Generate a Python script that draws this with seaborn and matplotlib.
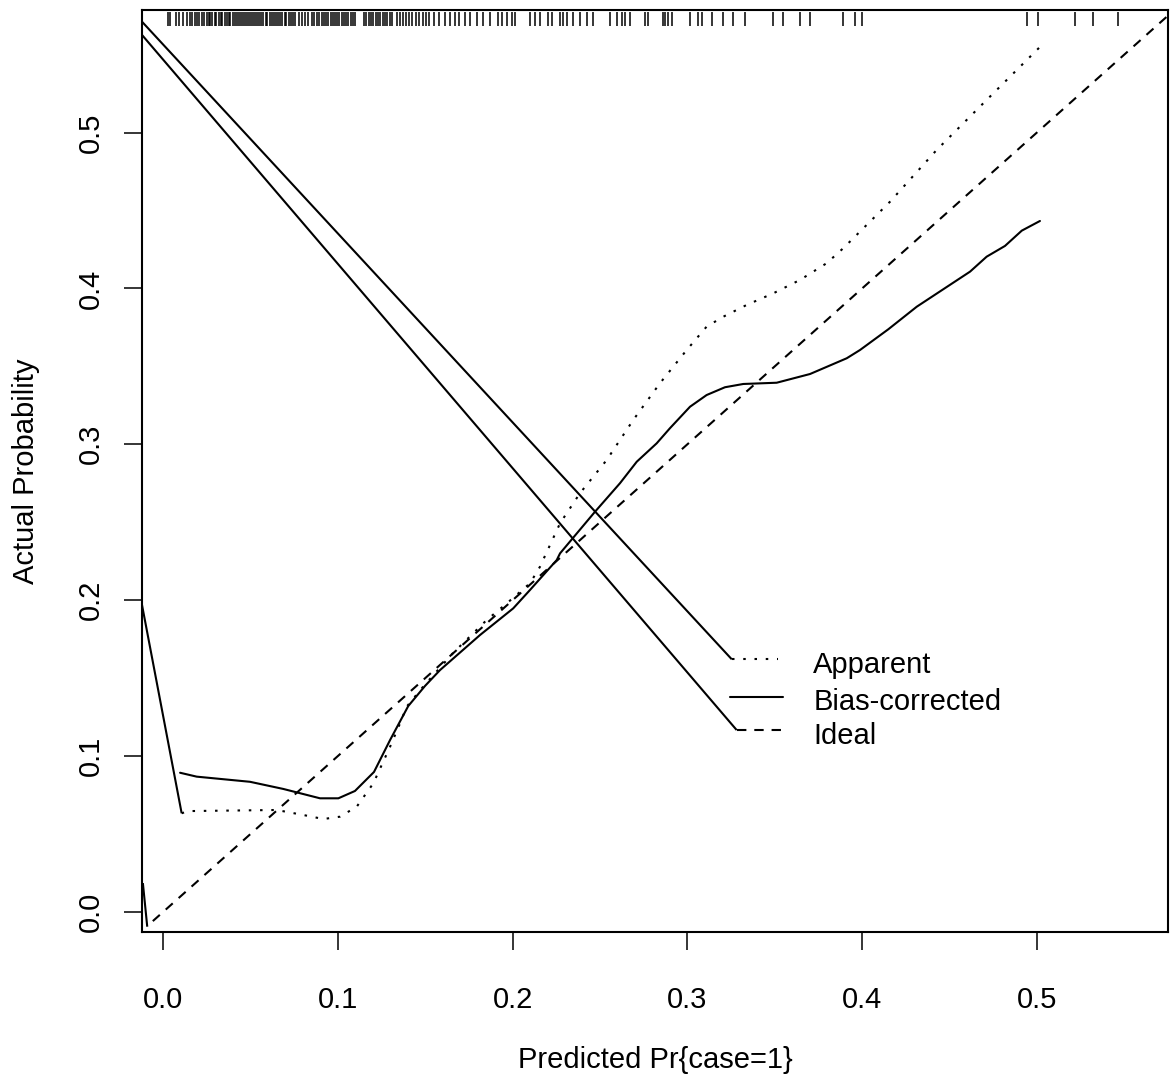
import numpy as np
import pandas as pd
import matplotlib
matplotlib.use("Agg")
import matplotlib.pyplot as plt
import seaborn as sns

# ---------------- data ----------------
apparent_x = [0.0105, 0.0143, 0.0649, 0.0801, 0.0916, 0.1011, 0.1107, 0.1202, 0.1298,
              0.1355, 0.1393, 0.1487, 0.1658, 0.1851, 0.1966, 0.2099, 0.2156, 0.2271,
              0.2385, 0.2538, 0.2690, 0.2843, 0.2996, 0.3110, 0.3206, 0.3339, 0.3492,
              0.3645, 0.3797, 0.3892, 0.4160, 0.4427, 0.4713, 0.5018]
apparent_y = [0.0632, 0.0646, 0.0653, 0.0621, 0.0595, 0.0610, 0.0674, 0.0824, 0.1059,
              0.1209, 0.1316, 0.1444, 0.1660, 0.1872, 0.1979, 0.2108, 0.2214, 0.2493,
              0.2686, 0.2899, 0.3156, 0.3392, 0.3605, 0.3755, 0.3819, 0.3894, 0.3969,
              0.4055, 0.4162, 0.4258, 0.4557, 0.4889, 0.5210, 0.5550]

corrected_x = [0.0096, 0.0191, 0.0496, 0.0687, 0.0897, 0.1002, 0.1097, 0.1206, 0.1298,
               0.1402, 0.1498, 0.1584, 0.1813, 0.2003, 0.2099, 0.2252, 0.2271, 0.2471,
               0.2614, 0.2710, 0.2824, 0.2900, 0.3015, 0.3110, 0.3215, 0.3320, 0.3511,
               0.3702, 0.3912, 0.3988, 0.4150, 0.4313, 0.4618, 0.4713, 0.4818, 0.4914,
               0.5018]
corrected_y = [0.0892, 0.0867, 0.0834, 0.0788, 0.0728, 0.0728, 0.0775, 0.0897, 0.1102,
               0.1320, 0.1449, 0.1551, 0.1776, 0.1947, 0.2065, 0.2257, 0.2300, 0.2567,
               0.2750, 0.2888, 0.3006, 0.3103, 0.3241, 0.3316, 0.3366, 0.3387, 0.3395,
               0.3451, 0.3552, 0.3605, 0.3738, 0.3883, 0.4108, 0.4204, 0.4273, 0.4371,
               0.4433]

ideal_x = [-0.0060, 0.5800]
ideal_y = [-0.0060, 0.5800]

# stray connector segments present in the original figure
seg_a_x = [-0.0122, 0.0105]
seg_a_y = [0.1969, 0.0632]
seg_b_x = [-0.0117, -0.0092]
seg_b_y = [0.0184, -0.0096]
seg_c_x = [-0.0122, 0.3254]
seg_c_y = [0.5712, 0.1620]
seg_d_x = [-0.0122, 0.3282]
seg_d_y = [0.5627, 0.1166]

# rug of predicted probabilities (top)
rug_x = [0.0027, 0.0040, 0.0075, 0.0090, 0.0113,
         0.0135, 0.0150, 0.0165, 0.0180, 0.0190, 0.0205, 0.0221,
         0.0235, 0.0248, 0.0260, 0.0268, 0.0281, 0.0295, 0.0302, 0.0316, 0.0330, 0.0338,
         0.0351, 0.0362, 0.0375, 0.0384, 0.0398, 0.0410, 0.0419, 0.0432, 0.0446, 0.0455,
         0.0467, 0.0480, 0.0489, 0.0502, 0.0515, 0.0524, 0.0538, 0.0549, 0.0560, 0.0573,
         0.0585, 0.0596, 0.0610, 0.0621, 0.0633, 0.0645, 0.0657, 0.0670, 0.0681, 0.0694,
         0.0705, 0.0718, 0.0730, 0.0742, 0.0755,
         0.0775, 0.0795, 0.0810, 0.0830, 0.0850, 0.0865, 0.0880,
         0.0893, 0.0906, 0.0920, 0.0931, 0.0945, 0.0958, 0.0970, 0.0983, 0.0995, 0.1008,
         0.1021, 0.1034, 0.1046, 0.1060, 0.1072, 0.1085, 0.1098,
         0.1150, 0.1163, 0.1175, 0.1190, 0.1202, 0.1215, 0.1228, 0.1241, 0.1255, 0.1268,
         0.1282, 0.1296, 0.1310,
         0.1335, 0.1352, 0.1371, 0.1390, 0.1408, 0.1425, 0.1446, 0.1465, 0.1484, 0.1505,
         0.1522,
         0.1552, 0.1580, 0.1612, 0.1640, 0.1668, 0.1695,
         0.1727, 0.1756, 0.1796, 0.1830, 0.1870, 0.1916, 0.1939, 0.1968, 0.1996, 0.2013,
         0.2099, 0.2128, 0.2156, 0.2202, 0.2224, 0.2271, 0.2288, 0.2311, 0.2345, 0.2385,
         0.2425, 0.2460, 0.2557, 0.2597, 0.2626, 0.2643, 0.2672, 0.2757, 0.2775, 0.2861,
         0.2872, 0.2889, 0.2912, 0.3015, 0.3060, 0.3083, 0.3141, 0.3204, 0.3261, 0.3330,
         0.3490, 0.3547, 0.3645, 0.3702, 0.3891, 0.3960, 0.4000, 0.4944, 0.5007, 0.5218,
         0.5322, 0.5465]

x_ticks = [0.0, 0.1, 0.2, 0.3, 0.4, 0.5]
y_ticks = [0.0, 0.1, 0.2, 0.3, 0.4, 0.5]
tick_labels = ["0.0", "0.1", "0.2", "0.3", "0.4", "0.5"]
legend_labels = ["Apparent", "Bias-corrected", "Ideal"]
x_label = "Predicted Pr{case=1}"
y_label = "Actual Probability"

# ---------------- style ----------------
sns.set_theme(style="white")
plt.rcParams["font.family"] = ["Liberation Sans", "DejaVu Sans"]
plt.rcParams["font.size"] = 21

W, H, DPI = 1170, 1078, 100
fig = plt.figure(figsize=(W / DPI, H / DPI), dpi=DPI)
fig.patch.set_facecolor("white")
ax = fig.add_axes([142 / W, 1 - 932 / H, (1168 - 142) / W, (932 - 10) / H])
ax.set_facecolor("white")

LW = 1.5
dotted = (0, (1.2, 4.2))
dashed = (0, (4.5, 3.8))

df_app = pd.DataFrame({"x": apparent_x, "y": apparent_y})
df_cor = pd.DataFrame({"x": corrected_x, "y": corrected_y})
df_ide = pd.DataFrame({"x": ideal_x, "y": ideal_y})

sns.lineplot(data=df_ide, x="x", y="y", ax=ax, color="black", lw=LW,
             linestyle=dashed, sort=False, estimator=None)
sns.lineplot(data=df_app, x="x", y="y", ax=ax, color="black", lw=LW,
             linestyle=dotted, sort=False, estimator=None)
sns.lineplot(data=df_cor, x="x", y="y", ax=ax, color="black", lw=LW,
             sort=False, estimator=None)

for sx, sy in [(seg_a_x, seg_a_y), (seg_b_x, seg_b_y), (seg_c_x, seg_c_y), (seg_d_x, seg_d_y)]:
    ax.plot(sx, sy, color="black", lw=LW, solid_capstyle="butt")

# rug at top
ax.vlines(rug_x, 0.5685, 0.5772, color="black", lw=1.1)

ax.set_xlim(-0.0122, 0.5751)
ax.set_ylim(-0.0130, 0.5787)

# legend drawn inside the plot area
leg_y = [0.1620, 0.1380, 0.1166]
leg_x0 = [0.3254, 0.3245, 0.3282]
leg_x1 = [0.3518, 0.3548, 0.3540]
styles = [dotted, "-", dashed]
for y, x0, x1, ls, lab in zip(leg_y, leg_x0, leg_x1, styles, legend_labels):
    ax.plot([x0, x1], [y, y], color="black", lw=LW, linestyle=ls)
    ax.text(0.3720, y - 0.0035, lab, fontsize=21, va="center", ha="left", color="black")

ax.set_xticks(x_ticks)
ax.set_xticklabels(tick_labels)
ax.set_yticks(y_ticks)
ax.set_yticklabels(tick_labels, rotation=90, va="center")

for s in ax.spines.values():
    s.set_linewidth(1.5)
    s.set_color("black")

ax.tick_params(axis="both", which="major", direction="out", length=13, width=1.1,
               color="black", labelsize=21, labelcolor="black",
               bottom=True, left=True, top=False, right=False)
ax.tick_params(axis="x", pad=26)
ax.tick_params(axis="y", pad=14)

ax.set_xlabel(x_label, fontsize=21, labelpad=23, color="black")
ax.set_ylabel(y_label, fontsize=21, labelpad=26, color="black")

fig.savefig("out.png", dpi=DPI, facecolor="white")
